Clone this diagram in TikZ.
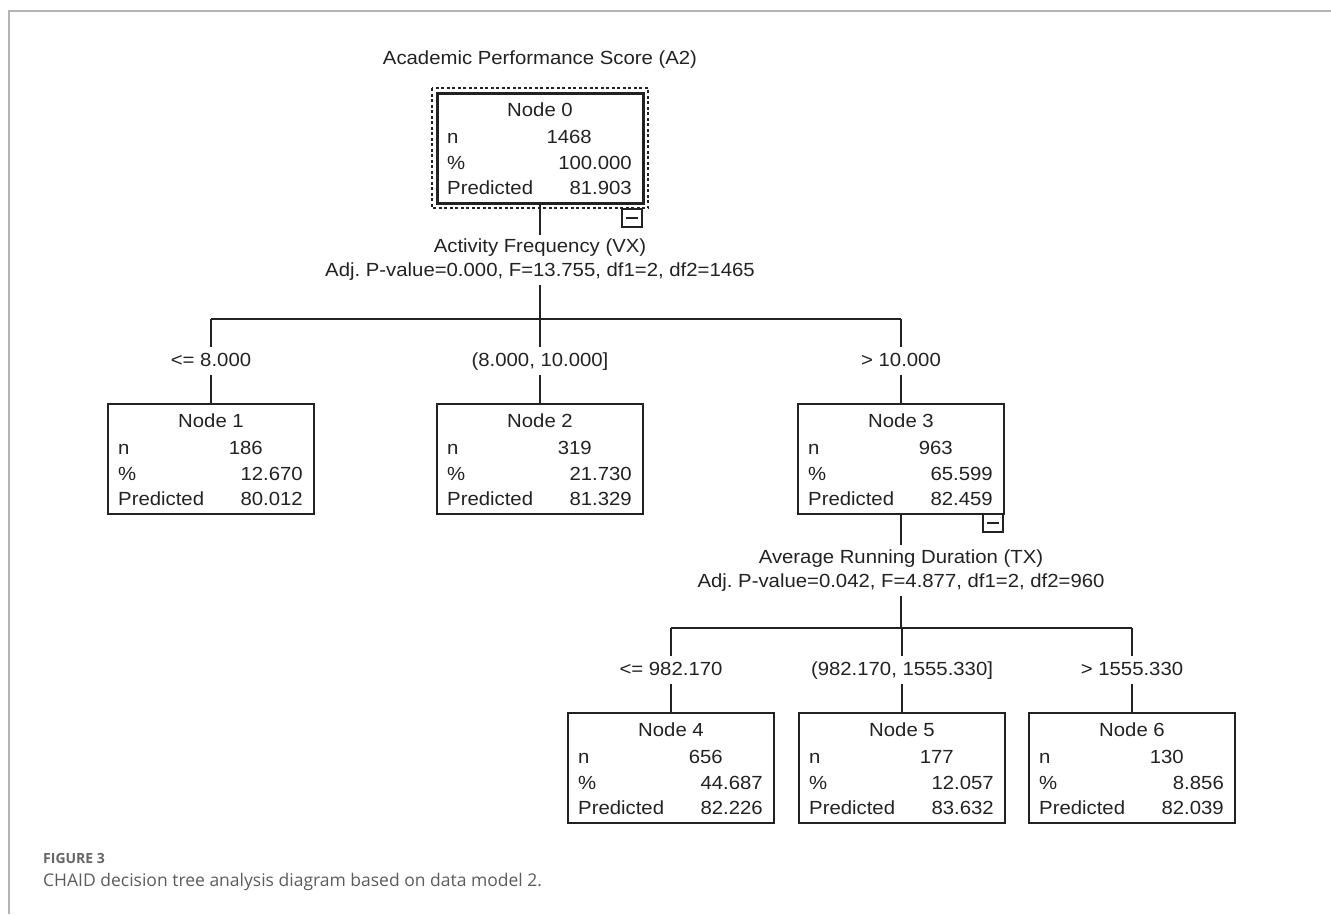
\documentclass[tikz,border=0pt]{standalone}
\usepackage{fontspec}
\setmainfont{Liberation Sans}[FakeStretch=1.07]
\newfontfamily\capfont{Open Sans}
\usetikzlibrary{calc}
\frenchspacing
\definecolor{ink}{HTML}{222222}
\definecolor{framegray}{HTML}{B4B4B4}
\definecolor{capgray}{HTML}{666666}
\tikzset{
 treebox/.style={draw=ink, line width=1.3pt, minimum width=206pt, minimum height=110pt, inner sep=0pt, outer sep=0pt, anchor=north west},
 txt/.style={inner sep=0pt, font=\fontsize{19}{22}\selectfont, text=ink},
 branch/.style={txt, inner xsep=2pt, inner ysep=5pt, text height=14pt, text depth=4pt},
 splitlab/.style={txt, align=center, inner ysep=4pt, font=\fontsize{19}{24}\selectfont},
 conn/.style={draw=ink, line width=1.4pt},
 collapse/.style={draw=ink, line width=1.1pt, minimum width=20pt, minimum height=18pt, inner sep=0pt, outer sep=0pt, anchor=north west},
}
\newcommand\treenode[8]{%
 \node[treebox,#8] (#1) at (#2,#3) {};
 \node[txt,anchor=base] (#1h) at ($(#1.north)+(0,23)$) {Node #4};
 \node[txt,anchor=base west] (#1a) at ($(#1.north west)+(10,50)$) {n};
 \node[txt,anchor=base east] (#1b) at ($(#1.north east)+(-51,50)$) {#5};
 \node[txt,anchor=base west] (#1c) at ($(#1.north west)+(10,76)$) {\%};
 \node[txt,anchor=base east] (#1d) at ($(#1.north east)+(-11,76)$) {#6};
 \node[txt,anchor=base west] (#1e) at ($(#1.north west)+(10,101)$) {Predicted};
 \node[txt,anchor=base east] (#1f) at ($(#1.north east)+(-11,101)$) {#7};
}
\begin{document}
\begin{tikzpicture}[x=1pt,y=-1pt]
\useasboundingbox (0,0) rectangle (1331,914);
\draw[framegray, line width=1.5pt] (9,914) -- (9,11) -- (1331,11);

\node[txt] (title) at (540,60) {Academic Performance Score (A2)};

% level 0
\treenode{n0}{437}{93}{0}{1468}{100.000}{81.903}{line width=3pt}
\draw[ink, line width=1.2pt, dash pattern=on 3pt off 2.5pt] ($(n0.north west)+(-5,-5)$) rectangle ($(n0.south east)+(5,5)$);
\node[collapse] (c0) at (622,209) {};
\draw[ink, line width=1.1pt] ($(c0.center)+(-6,0)$) -- ($(c0.center)+(6,0)$);

\node[splitlab] (sp0) at (540,260) {Activity Frequency (VX)\\Adj. P-value=0.000, F=13.755, df1=2, df2=1465};
\coordinate (j0) at (540,319);
\coordinate (j1) at (211,319);
\coordinate (j3) at (901,319);
\draw[conn] (n0.south) -- (n0.south |- sp0.north);
\draw[conn] (n0.south |- sp0.south) -- (n0.south |- j0);
\draw[conn] (j1) -- (j3);

% level 1
\treenode{n1}{108}{404}{1}{186}{12.670}{80.012}{}
\treenode{n2}{437}{404}{2}{319}{21.730}{81.329}{}
\treenode{n3}{798}{404}{3}{963}{65.599}{82.459}{}
\node[branch] (l1) at (211,361) {<= 8.000};
\node[branch] (l2) at (540,361) {(8.000, 10.000]};
\node[branch] (l3) at (901,361) {> 10.000};
\draw[conn] (n1.north |- j1) -- (n1.north |- l1.north);
\draw[conn] (n1.north |- l1.south) -- (n1.north);
\draw[conn] (n2.north |- j0) -- (n2.north |- l2.north);
\draw[conn] (n2.north |- l2.south) -- (n2.north);
\draw[conn] (n3.north |- j3) -- (n3.north |- l3.north);
\draw[conn] (n3.north |- l3.south) -- (n3.north);

\node[collapse] (c3) at (983,514) {};
\draw[ink, line width=1.1pt] ($(c3.center)+(-6,0)$) -- ($(c3.center)+(6,0)$);

\node[splitlab] (sp3) at (901,570.5) {Average Running Duration (TX)\\Adj. P-value=0.042, F=4.877, df1=2, df2=960};
\coordinate (k0) at (901,628);
\coordinate (k1) at (671,628);
\coordinate (k3) at (1132,628);
\draw[conn] (n3.south) -- (n3.south |- sp3.north);
\draw[conn] (n3.south |- sp3.south) -- (n3.south |- k0);
\draw[conn] (k1) -- (k3);

% level 2
\treenode{n4}{568}{713}{4}{656}{44.687}{82.226}{}
\treenode{n5}{799}{713}{5}{177}{12.057}{83.632}{}
\treenode{n6}{1029}{713}{6}{130}{8.856}{82.039}{}
\node[branch] (l4) at (671,670) {<= 982.170};
\node[branch] (l5) at (902,670) {(982.170, 1555.330]};
\node[branch] (l6) at (1132,670) {> 1555.330};
\draw[conn] (n4.north |- k1) -- (n4.north |- l4.north);
\draw[conn] (n4.north |- l4.south) -- (n4.north);
\draw[conn] (n5.north |- k0) -- (n5.north |- l5.north);
\draw[conn] (n5.north |- l5.south) -- (n5.north);
\draw[conn] (n6.north |- k3) -- (n6.north |- l6.north);
\draw[conn] (n6.north |- l6.south) -- (n6.north);

% caption
\node[anchor=base west, inner sep=0pt, text=capgray, font=\capfont\fontsize{14}{16}\selectfont\bfseries] (figlab) at (43,863) {FIGURE 3};
\node[anchor=base west, inner sep=0pt, text=capgray!90!black, font=\capfont\fontsize{17.5}{20}\selectfont] (figcap) at (43,886) {CHAID decision tree analysis diagram based on data model 2.};
\end{tikzpicture}
\end{document}
